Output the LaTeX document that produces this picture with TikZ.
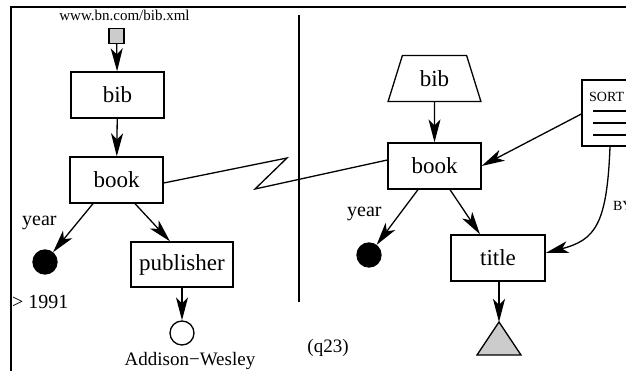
\documentclass[tikz,border=0pt]{standalone}
\usepackage{fontspec}
\setmainfont{Liberation Serif}
\usetikzlibrary{arrows.meta,shapes.geometric}
\begin{document}
\begin{tikzpicture}[x=1pt,y=-1pt,
  line width=1.3pt,
  arr/.style={-{Stealth[length=23pt,width=12pt,inset=6pt]}},
  box/.style={draw,rectangle,minimum width=93pt,minimum height=46pt,inner sep=0pt,
    font=\fontsize{23}{26}\selectfont},
  lbl/.style={inner sep=0pt,font=\fontsize{20}{24}\selectfont},
  dot/.style={circle,draw,inner sep=0pt,minimum size=24pt}]
\clip (0,0) rectangle (626,371);

% frame
\draw (11,380) -- (11,7) -- (640,7);
% divider
\draw (299,15) -- (299,302);

% ---------- left query ----------
\node[lbl,font=\fontsize{15}{18}\selectfont,anchor=base] (url) at (124.5,20.7) {www.bn.com/bib.xml};
\node[draw,fill=black!20,minimum size=15pt,inner sep=0pt] (src) at (116.5,36) {};
\node[box] (lbib) at (117.5,95) {bib};
\node[box] (lbook) at (116.5,180) {book};
\node[dot,fill=black] (lyear) at (45,262) {};
\node[box,minimum width=102pt,minimum height=45pt] (lpub) at (182,264.5) {publisher};
\node[dot,fill=white] (lval) at (182,333) {};
\node[lbl,anchor=base west] (lyearlbl) at (21.5,226) {year};
\node[lbl,anchor=base west] (lcond) at (11.5,308) {> 1991};
\node[lbl,font=\fontsize{19}{22}\selectfont,anchor=base] (lvallbl) at (190,365) {Addison−Wesley};

\draw[arr] (src) -- (lbib);
\draw[arr] (lbib) -- (lbook);
\draw[arr] ([xshift=-23.5pt]lbook.south) -- (lyear);
\draw[arr] ([xshift=18.5pt]lbook.south) -- ([xshift=-12pt]lpub.north);
\draw[arr] (lpub) -- (lval);

% link between the two books
\coordinate (zz1) at (287,158);
\coordinate (zz2) at (255,189);
\node[box] (rbook) at (434.5,166) {book};
\draw ([yshift=-3pt]lbook.east) -- (zz1) -- (zz2) -- ([yshift=6pt]rbook.west);

\node[lbl,font=\fontsize{19}{22}\selectfont] (qname) at (328,348) {(q23)};

% ---------- right query ----------
\node[draw,shape=trapezium,trapezium left angle=68,trapezium right angle=68,
  trapezium stretches=true,minimum width=93pt,minimum height=46pt,inner sep=0pt,
  font=\fontsize{23}{26}\selectfont] (rbib) at (434.5,78.5) {bib};
\node[dot,fill=black] (ryear) at (369,255) {};
\node[box,minimum width=94pt] (title) at (498,258) {title};
\coordinate (tri) at (499,322);
\draw[fill=black!20] (tri) -- ++(-22,33) -- ++(44,0) -- cycle;
\node[lbl,anchor=base west] (ryearlbl) at (346.5,217) {year};

% sort operator
\node[draw,rectangle,minimum width=58pt,minimum height=66pt,inner sep=0pt] (sort) at (611,113) {};
\node[inner sep=0pt,anchor=base west,font=\fontsize{14}{16}\selectfont] (sortlbl) at (588.5,101.5) {SORT};
\draw (593,111) -- (640,111);
\draw (593,123) -- (640,123);
\draw (593,135) -- (640,135);
\node[inner sep=0pt,anchor=base west,font=\fontsize{14}{16}\selectfont] (bylbl) at (612.5,211) {BY};

\draw[arr] (rbib) -- (rbook);
\draw[arr] ([xshift=-16.5pt]rbook.south) -- (ryear);
\draw[arr] ([xshift=15.5pt]rbook.south) -- ([xshift=-18pt]title.north);
\draw[arr] ([xshift=1pt]title.south) -- (tri);
\draw[arr] ([yshift=-1pt]sort.west) -- (rbook.east);
\draw[arr] ([xshift=-1pt]sort.south) .. controls (607,225) and (595,240) .. ([yshift=5pt]title.east);
\end{tikzpicture}
\end{document}
